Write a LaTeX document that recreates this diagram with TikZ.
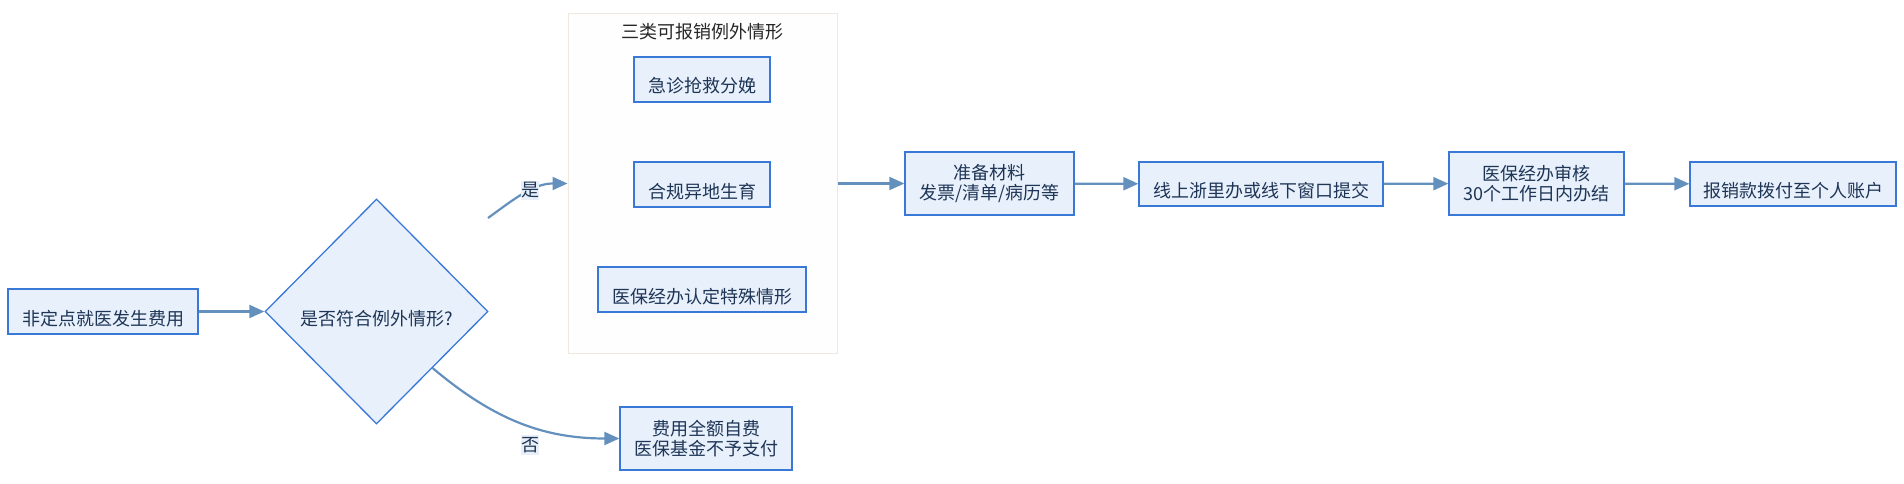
\documentclass[tikz,border=0pt]{standalone}
\usepackage{fontspec}
\setmainfont{Noto Sans CJK SC}
\usetikzlibrary{shapes.geometric,arrows.meta}
\definecolor{boxfill}{HTML}{E8F0FC}
\definecolor{boxline}{HTML}{3A78D8}
\definecolor{txt}{HTML}{1E3556}
\definecolor{arrowc}{HTML}{6490BE}
\definecolor{labbg}{HTML}{E8EFF8}
\definecolor{grpfill}{HTML}{FEFEFE}
\definecolor{grpline}{HTML}{EEE8DF}
\begin{document}
\begin{tikzpicture}[x=1pt,y=-1pt,
    proc/.style={draw=boxline,fill=boxfill,line width=1.3pt,text=txt,
      font=\fontsize{18}{20}\selectfont,align=center,inner sep=0pt},
    low/.style={text height=29pt,text depth=2pt},
    flow/.style={draw=arrowc,line width=2.2pt,-{Triangle[length=15pt,width=13pt]}},
    lab/.style={fill=labbg,text=txt,font=\fontsize{18}{20}\selectfont,
      inner xsep=0pt,inner ysep=2pt}]
    \useasboundingbox (0,0) rectangle (1904,484);
    % left part
    \node[proc,low,minimum width=190pt,minimum height=45pt] (start) at (103,311.5) {非定点就医发生费用};
    \node[proc,low,shape=diamond,minimum width=223pt,minimum height=225pt] (check) at (376.5,311.5) {是否符合例外情形?};
    % group of exceptions
    \node[draw=grpline,fill=grpfill,line width=1pt,minimum width=269pt,minimum height=339pt] (grp) at (702.5,183.5) {};
    \node[text=black!85,font=\fontsize{18}{20}\selectfont] (grptitle) at (702.5,32) {三类可报销例外情形};
    \node[proc,low,minimum width=136pt,minimum height=45pt] (emerg) at (702,79.5) {急诊抢救分娩};
    \node[proc,low,minimum width=136pt,minimum height=45pt] (birth) at (702,184.5) {合规异地生育};
    \node[proc,low,minimum width=208pt,minimum height=45pt] (special) at (702,289.5) {医保经办认定特殊情形};
    % main line
    \node[proc,minimum width=169pt,minimum height=63pt] (prep) at (989.5,183.5) {准备材料\\发票/清单/病历等};
    \node[proc,low,minimum width=244pt,minimum height=44pt] (submit) at (1261,184) {线上浙里办或线下窗口提交};
    \node[proc,minimum width=175pt,minimum height=63pt] (audit) at (1536.5,183.5) {医保经办审核\\30个工作日内办结};
    \node[proc,low,minimum width=206pt,minimum height=44pt] (pay) at (1793,184) {报销款拨付至个人账户};
    \node[proc,minimum width=172pt,minimum height=63pt] (self) at (706,438.5) {费用全额自费\\医保基金不予支付};
    % connectors
    \coordinate (yesstart) at (488,218);
    \draw[flow] (start) -- (check.west);
    \draw[flow] (yesstart) to[out=36,in=180] (grp.west);
    \draw[flow] (check.south east) to[out=-40,in=180] (self.west);
    \draw[flow] (grp.east) -- (prep.west);
    \draw[flow] (prep) -- (submit);
    \draw[flow] (submit) -- (audit);
    \draw[flow] (audit) -- (pay);
    \node[lab] (yes) at (530,190.5) {是};
    \node[lab] (no) at (530,445) {否};
\end{tikzpicture}
\end{document}
